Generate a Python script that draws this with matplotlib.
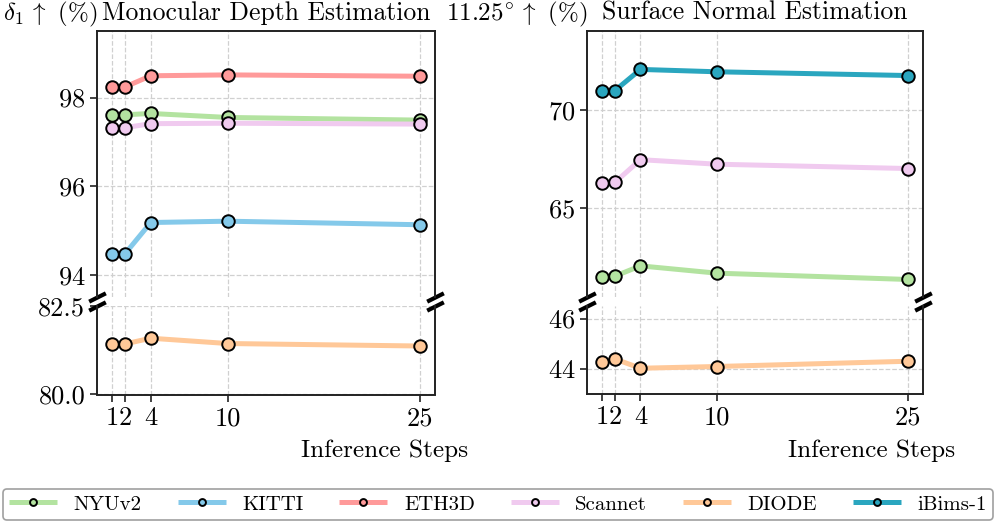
import matplotlib
matplotlib.use("Agg")
import matplotlib.pyplot as plt

plt.rcParams['font.family'] = 'serif'
plt.rcParams['font.serif'] = ['cmr10']
plt.rcParams['mathtext.fontset'] = 'cm'
plt.rcParams['axes.formatter.use_mathtext'] = True
plt.rcParams['axes.unicode_minus'] = False

steps = [1, 2, 4, 10, 25]
step_labels = ["1", "2", "4", "10", "25"]

# Monocular depth (delta1 %)
depth_nyu = [97.61, 97.61, 97.64, 97.55, 97.49]
depth_kitti = [94.48, 94.48, 95.18, 95.21, 95.13]
depth_eth3d = [98.24, 98.24, 98.49, 98.51, 98.48]
depth_scannet = [97.32, 97.32, 97.41, 97.42, 97.40]
depth_diode = [81.43, 81.43, 81.59, 81.44, 81.37]

# Surface normal (11.25 deg %)
normal_nyu = [61.52, 61.56, 62.08, 61.71, 61.39]
normal_scannet = [66.30, 66.32, 67.47, 67.24, 67.02]
normal_diode = [44.27, 44.38, 44.01, 44.08, 44.29]
normal_ibims = [70.93, 70.98, 72.05, 71.93, 71.74]

names = ["NYUv2", "KITTI", "ETH3D", "Scannet", "DIODE", "iBims-1"]
colors = {"NYUv2": "#b3e3a0", "KITTI": "#84c9ea", "ETH3D": "#ff9a9a",
          "Scannet": "#f0caef", "DIODE": "#ffc898", "iBims-1": "#2aa6bf"}

fig = plt.figure(figsize=(9.97, 5.21), dpi=100)

W, H = 997.0, 521.0
def ax_rect(x0, x1, y0, y1):
    return [x0 / W, 1 - y1 / H, (x1 - x0) / W, (y1 - y0) / H]

lt = fig.add_axes(ax_rect(97, 435, 31, 297))
lb = fig.add_axes(ax_rect(97, 435, 306, 394.5))
rt = fig.add_axes(ax_rect(587, 923, 31, 297))
rb = fig.add_axes(ax_rect(587, 923, 306, 393.5))

line_kw = dict(lw=3.6, marker='o', markersize=9, markeredgecolor='black',
               markeredgewidth=1.4, solid_capstyle='butt')

def plot(ax, vals, name):
    return ax.plot(steps, vals, color=colors[name], markerfacecolor=colors[name],
                   label=name, **line_kw)[0]

handles = {}
handles["NYUv2"] = plot(lt, depth_nyu, "NYUv2")
handles["KITTI"] = plot(lt, depth_kitti, "KITTI")
handles["ETH3D"] = plot(lt, depth_eth3d, "ETH3D")
handles["Scannet"] = plot(lt, depth_scannet, "Scannet")
handles["DIODE"] = plot(lb, depth_diode, "DIODE")

plot(rt, normal_nyu, "NYUv2")
plot(rt, normal_scannet, "Scannet")
plot(rb, normal_diode, "DIODE")
handles["iBims-1"] = plot(rt, normal_ibims, "iBims-1")

lt.set_ylim(93.5, 99.5)
lt.set_yticks([94, 96, 98])
lb.set_ylim(80.0, 82.5)
lb.set_yticks([80.0, 82.5])
lb.set_yticklabels(["80.0", "82.5"])
rt.set_ylim(60.5, 74)
rt.set_yticks([65, 70])
rb.set_ylim(43, 46.5)
rb.set_yticks([44, 46])

for ax in (lt, lb, rt, rb):
    ax.set_xlim(-0.2, 26.2)
    ax.set_xticks(steps)
    ax.grid(True, linestyle='--', color='#d0d0d0', linewidth=0.9)
    ax.set_axisbelow(True)
    ax.tick_params(axis='both', labelsize=19, direction='out', length=5, width=1.2,
                   color='#222222')
    for s in ax.spines.values():
        s.set_linewidth(1.4)
        s.set_color('#222222')

for ax in (lt, rt):
    ax.spines['bottom'].set_visible(False)
    ax.tick_params(axis='x', bottom=False, labelbottom=False)
for ax in (lb, rb):
    ax.spines['top'].set_visible(False)
    ax.set_xticklabels(step_labels)

# break marks
d = 0.5
bk = dict(marker=[(-1, -d), (1, d)], markersize=12, linestyle='none',
          color='k', mec='k', mew=3, clip_on=False)
for top, bot in ((lt, lb), (rt, rb)):
    top.plot([0, 1], [0, 0], transform=top.transAxes, **bk)
    bot.plot([0, 1], [1, 1], transform=bot.transAxes, **bk)

lt.set_title("Monocular Depth Estimation", fontsize=18.5, pad=8)
rt.set_title("Surface Normal Estimation", fontsize=18.5, pad=8)
lt.text(0, 1.041, r"$\delta_1\,\uparrow$ (%)", transform=lt.transAxes,
        ha='right', va='baseline', fontsize=18)
rt.text(0, 1.041, r"$11.25^{\circ}\,\uparrow$ (%)", transform=rt.transAxes,
        ha='right', va='baseline', fontsize=18)

fig.text(468 / W, 1 - 457 / H, "Inference Steps", ha='right', va='baseline', fontsize=18.2)
fig.text(955 / W, 1 - 457 / H, "Inference Steps", ha='right', va='baseline', fontsize=18.2)

leg = fig.legend([handles[n] for n in names], names, loc='lower left',
                 bbox_to_anchor=(3 / W, 1 / H, 990 / W, 32 / H), mode='expand',
                 ncol=6, fontsize=15, handlelength=2.3, markerscale=0.55,
                 frameon=True, fancybox=True, edgecolor='#888888',
                 borderaxespad=0.0, borderpad=0.3)
leg.get_frame().set_linewidth(1.2)

fig.savefig("out.png", dpi=100)
